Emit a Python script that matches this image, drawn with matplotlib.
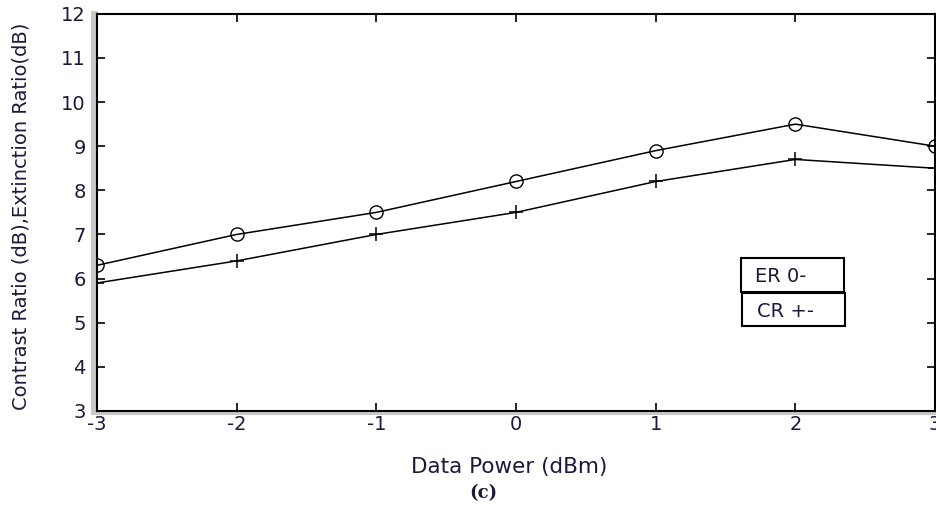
import matplotlib.pyplot as plt
from matplotlib.lines import Line2D
from matplotlib.patches import Rectangle

power = [-3, -2, -1, 0, 1, 2, 3]
er = [6.3, 7.0, 7.5, 8.2, 8.9, 9.5, 9.0]
cr = [5.9, 6.4, 7.0, 7.5, 8.2, 8.7, 8.5]
tick_labels = ['-3', '-2', '-1', '0', '1', '2', '3']

txt = '#1a1a3a'

fig = plt.figure(figsize=(9.37, 5.13), dpi=100)
ax = fig.add_axes([0.1035, 0.199, 0.8945, 0.774])

ax.plot(power, er, color='black', lw=1.1, marker='o', ms=9.5,
        mfc='none', mec='black', mew=1.0)
ax.plot(power, cr, color='black', lw=1.1, marker='+', ms=10, mew=1.1)

ax.set_xlim(-3, 3)
ax.set_ylim(3, 12)
ax.set_xticks(power)
ax.set_xticklabels(tick_labels)
ax.set_yticks(range(3, 13))
ax.tick_params(direction='in', length=6, width=1.2, top=True, right=True,
               labelsize=14, labelcolor=txt, pad=3)
ax.tick_params(axis='y', pad=8)
for s in ax.spines.values():
    s.set_linewidth(1.5)

# grey shadow along left and bottom frame
ax.add_line(Line2D([-0.004, -0.004], [0, 1], transform=ax.transAxes,
                   color='#c8c8c8', lw=5, clip_on=False, zorder=0))
ax.add_line(Line2D([0, 1], [-0.006, -0.006], transform=ax.transAxes,
                   color='#c8c8c8', lw=3, clip_on=False, zorder=0))

ax.set_ylabel('Contrast Ratio (dB),Extinction Ratio(dB)', fontsize=14,
              color=txt, va='center')
ax.yaxis.set_label_coords(-0.091, 0.49)
fig.text(0.543, 1 - 467 / 513, 'Data Power (dBm)', fontsize=15.5,
         color=txt, ha='center', va='center')
fig.text(0.516, 1 - 493 / 513, '(c)', fontsize=13, fontweight='bold',
         family='DejaVu Serif', ha='center', va='center', color=txt)

# two stacked legend boxes
boxes = [('ER 0-', 0.768, 0.300, 0.123, 0.085),
         ('CR +-', 0.770, 0.214, 0.122, 0.083)]
for label, bx, by, bw, bh in boxes:
    ax.add_patch(Rectangle((bx, by), bw, bh, transform=ax.transAxes,
                           fc='white', ec='black', lw=1.5, zorder=5))
    ax.text(bx + 0.017, by + bh / 2 - 0.004, label, transform=ax.transAxes,
            fontsize=14, color=txt, va='center', ha='left', zorder=6)

fig.savefig('out.png', dpi=100)
